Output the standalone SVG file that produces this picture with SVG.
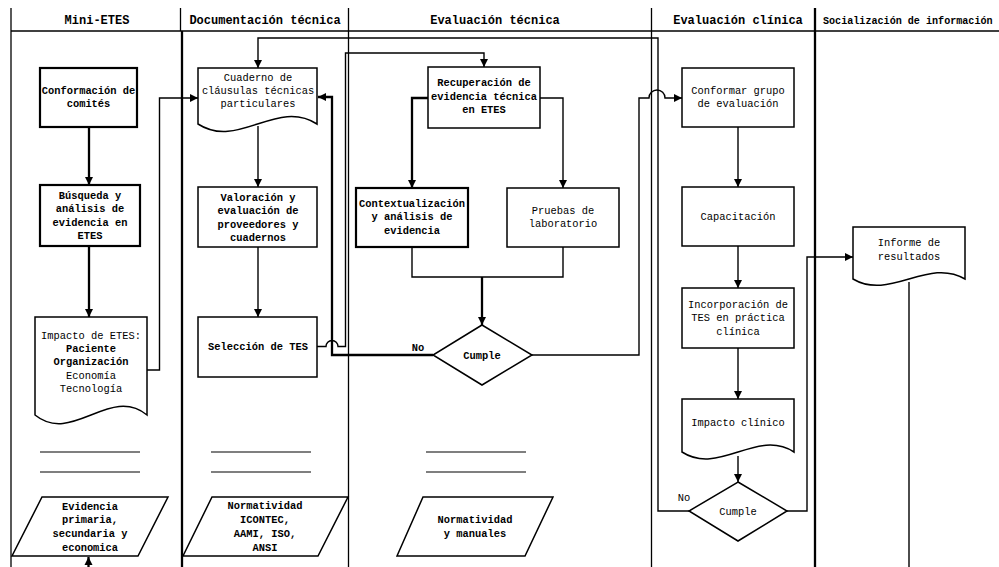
<svg xmlns="http://www.w3.org/2000/svg" width="999" height="567" viewBox="0 0 999 567">
<style>
.bg{fill:#fff}
.lane{stroke:#000;stroke-width:1.3;fill:none}
.lanek{stroke:#000;stroke-width:2.3;fill:none}
.box{fill:#fff;stroke:#000;stroke-width:1.5}
.boxk{fill:#fff;stroke:#000;stroke-width:2.2}
.c{fill:none;stroke:#000;stroke-width:1.4}
.ck{fill:none;stroke:#000;stroke-width:2.3}
.rule{stroke:#000;stroke-width:1.2}
.t{font-family:"Liberation Mono","DejaVu Sans Mono",monospace;font-size:10.4px;text-anchor:middle;fill:#000}
.b{font-weight:bold}
.h{font-family:"Liberation Mono","DejaVu Sans Mono",monospace;font-size:12px;font-weight:bold;text-anchor:middle;fill:#000}
.hs{font-family:"Liberation Mono","DejaVu Sans Mono",monospace;font-size:10.1px;font-weight:bold;fill:#000}
</style>
<defs>
<marker id="ar" markerUnits="userSpaceOnUse" markerWidth="9" markerHeight="9" refX="8" refY="4.5" orient="auto">
<path d="M0,0.5 L8,4.5 L0,8.5 Z" fill="#000"/>
</marker>
</defs>
<rect class="bg" x="0" y="0" width="999" height="567"/>

<g id="lanes">
<line class="lane" x1="11" y1="8" x2="11" y2="567"/>
<line class="lane" x1="180.5" y1="8" x2="180.5" y2="31"/>
<line class="lanek" x1="182" y1="31" x2="182" y2="567"/>
<line class="lane" x1="348.5" y1="8" x2="348.5" y2="567"/>
<line class="lane" x1="651.5" y1="8" x2="651.5" y2="567"/>
<line class="lanek" x1="815" y1="8" x2="815" y2="567"/>
<line class="lane" x1="11" y1="31" x2="999" y2="31"/>
<text class="h" x="97" y="24">Mini-ETES</text>
<text class="h" x="265" y="24">Documentación técnica</text>
<text class="h" x="495" y="24">Evaluación técnica</text>
<text class="h" x="738" y="24">Evaluación clínica</text>
<text class="hs" x="823" y="24">Socialización de información</text>
</g>

<g id="connectors">
<path class="ck" d="M89,127 V185" marker-end="url(#ar)"/>
<path class="ck" d="M89,246 V317" marker-end="url(#ar)"/>
<path class="c" d="M147,370 H159.5 V98 H198" marker-end="url(#ar)"/>
<path class="c" d="M258,126 V187" marker-end="url(#ar)"/>
<path class="c" d="M258,247 V317" marker-end="url(#ar)"/>
<path class="c" d="M317,346.5 H326 A6,6 0 0 1 338,346.5 H345.5 V53 H484 V67" marker-end="url(#ar)"/>
<path class="ck" d="M428,98 H412 V188" marker-end="url(#ar)"/>
<path class="c" d="M540,98 H563 V188" marker-end="url(#ar)"/>
<path class="c" d="M412,247 V277 H563 V247"/>
<path class="ck" d="M482,277 V325" marker-end="url(#ar)"/>
<path class="ck" d="M433,355 H332 V97 H318" marker-end="url(#ar)"/>
<path class="c" d="M532,355 H639 V98 H649 A8,8 0 0 1 665,98 H682" marker-end="url(#ar)"/>
<path class="c" d="M738,127 V187" marker-end="url(#ar)"/>
<path class="c" d="M738,246 V288" marker-end="url(#ar)"/>
<path class="c" d="M738,348 V399" marker-end="url(#ar)"/>
<path class="c" d="M738,456 V482" marker-end="url(#ar)"/>
<path class="c" d="M689,511 H658 V38 H258 V68" marker-end="url(#ar)"/>
<path class="c" d="M787,511 H807 V257 H853" marker-end="url(#ar)"/>
<path class="c" d="M909,282 V567"/>
<path class="ck" d="M88.5,567 V557" marker-end="url(#ar)"/>
<text class="t b" x="418" y="351">No</text>
<text class="t" x="684" y="501">No</text>
</g>

<g id="conformacion">
<rect class="boxk" x="40" y="68" width="97" height="59"/>
<text class="t b" x="88.5" y="94">Conformación de</text>
<text class="t b" x="88.5" y="107">comités</text>
</g>

<g id="busqueda">
<rect class="boxk" x="40" y="185" width="100" height="61"/>
<text class="t b" x="90" y="199">Búsqueda y</text>
<text class="t b" x="90" y="212">análisis de</text>
<text class="t b" x="90" y="226">evidencia en</text>
<text class="t b" x="90" y="239">ETES</text>
</g>

<g id="impacto-etes">
<path class="box" d="M35,317 H147 V415 C110,385 72,445 35,415 Z"/>
<text class="t" x="91" y="339">Impacto de ETES:</text>
<text class="t b" x="91" y="352">Paciente</text>
<text class="t b" x="91" y="365">Organización</text>
<text class="t" x="91" y="379">Economía</text>
<text class="t" x="91" y="392">Tecnología</text>
</g>

<g id="rules-mini">
<line class="rule" x1="40" y1="452" x2="140" y2="452"/>
<line class="rule" x1="40" y1="472" x2="140" y2="472"/>
</g>

<g id="evidencia">
<polygon class="box" points="42,497 168,497 138,556 12,556"/>
<text class="t b" x="90" y="510">Evidencia</text>
<text class="t b" x="90" y="523">primaria,</text>
<text class="t b" x="90" y="537">secundaria y</text>
<text class="t b" x="90" y="551">economica</text>
</g>

<g id="cuaderno">
<path class="box" d="M198,68 H317 V124 C277,98 238,150 198,124 Z"/>
<text class="t" x="258" y="81">Cuaderno de</text>
<text class="t" x="258" y="94">cláusulas técnicas</text>
<text class="t" x="258" y="107">particulares</text>
</g>

<g id="valoracion">
<rect class="box" x="198" y="187" width="119" height="60"/>
<text class="t b" x="258" y="201">Valoración y</text>
<text class="t b" x="258" y="214">evaluación de</text>
<text class="t b" x="258" y="228">proveedores y</text>
<text class="t b" x="258" y="241">cuadernos</text>
</g>

<g id="seleccion">
<rect class="box" x="198" y="317" width="119" height="60"/>
<text class="t b" x="258" y="350">Selección de TES</text>
</g>

<g id="rules-doc">
<line class="rule" x1="211" y1="452" x2="311" y2="452"/>
<line class="rule" x1="211" y1="472" x2="311" y2="472"/>
</g>

<g id="normatividad-icontec">
<polygon class="box" points="212,497 348,497 318,556 183,556"/>
<text class="t b" x="265" y="509">Normatividad</text>
<text class="t b" x="265" y="523">ICONTEC,</text>
<text class="t b" x="265" y="537">AAMI, ISO,</text>
<text class="t b" x="265" y="551">ANSI</text>
</g>

<g id="recuperacion">
<rect class="box" x="428" y="67" width="112" height="61"/>
<text class="t b" x="484" y="86">Recuperación de</text>
<text class="t b" x="484" y="100">evidencia técnica</text>
<text class="t b" x="484" y="113">en ETES</text>
</g>

<g id="contextualizacion">
<rect class="boxk" x="356" y="188" width="112" height="59"/>
<text class="t b" x="412" y="207">Contextualización</text>
<text class="t b" x="412" y="220">y análisis de</text>
<text class="t b" x="412" y="234">evidencia</text>
</g>

<g id="pruebas">
<rect class="box" x="507" y="188" width="112" height="59"/>
<text class="t" x="563" y="214">Pruebas de</text>
<text class="t" x="563" y="227">laboratorio</text>
</g>

<g id="cumple-tecnica">
<polygon class="box" points="482,325 532,355 482,385 433,355"/>
<text class="t b" x="482" y="359">Cumple</text>
</g>

<g id="rules-eval">
<line class="rule" x1="426" y1="452" x2="526" y2="452"/>
<line class="rule" x1="426" y1="472" x2="526" y2="472"/>
</g>

<g id="normatividad-manuales">
<polygon class="box" points="423,497 553,497 525,556 397,556"/>
<text class="t b" x="475" y="523">Normatividad</text>
<text class="t b" x="475" y="537">y manuales</text>
</g>

<g id="conformar-grupo">
<rect class="box" x="682" y="68" width="112" height="59"/>
<text class="t" x="738" y="94">Conformar grupo</text>
<text class="t" x="738" y="107">de evaluación</text>
</g>

<g id="capacitacion">
<rect class="box" x="682" y="187" width="112" height="59"/>
<text class="t" x="738" y="220">Capacitación</text>
</g>

<g id="incorporacion">
<rect class="box" x="682" y="288" width="112" height="60"/>
<text class="t" x="738" y="308">Incorporación de</text>
<text class="t" x="738" y="321">TES en práctica</text>
<text class="t" x="738" y="335">clínica</text>
</g>

<g id="impacto-clinico">
<path class="box" d="M682,399 H794 V452 C757,428 719,476 682,452 Z"/>
<text class="t" x="738" y="426">Impacto clínico</text>
</g>

<g id="cumple-clinica">
<polygon class="box" points="738,482 787,511 738,541 689,511"/>
<text class="t" x="738" y="515">Cumple</text>
</g>

<g id="informe">
<path class="box" d="M853,227 H965 V279 C928,257 890,301 853,279 Z"/>
<text class="t" x="909" y="246">Informe de</text>
<text class="t" x="909" y="260">resultados</text>
</g>
</svg>
